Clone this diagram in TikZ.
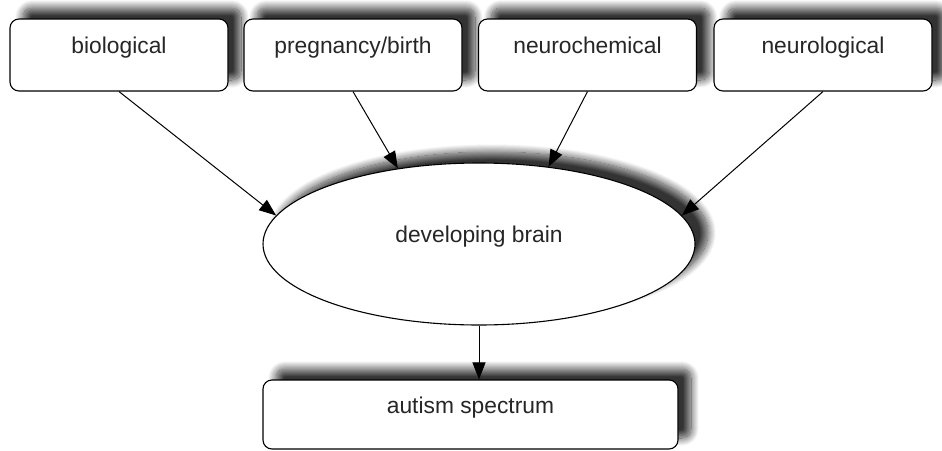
\documentclass[tikz,border=0pt]{standalone}
\usepackage{fontspec}
\setmainfont{Liberation Sans}
\usetikzlibrary{shapes.geometric,shadows.blur,arrows.meta}
\begin{document}
\begin{tikzpicture}[x=1pt,y=-1pt,
  myshadow/.style={blur shadow={shadow xshift=13pt, shadow yshift=11pt, shadow blur radius=8pt, shadow blur steps=16, shadow opacity=80}},
  txt/.style={font=\fontsize{22.8pt}{27pt}\selectfont, text=black!85},
  topbox/.style={draw=black, line width=1.1pt, fill=white, rounded corners=9pt, inner sep=0pt,
    minimum width=218pt, text height=34pt, text depth=38pt, txt, myshadow},
  bigbox/.style={draw=black, line width=1.1pt, fill=white, rounded corners=9pt, inner sep=0pt,
    minimum width=415pt, text height=33pt, text depth=36pt, txt, myshadow},
  brainshape/.style={ellipse, draw=black, line width=1.1pt, fill=white, inner sep=0pt,
    minimum width=432pt, minimum height=162pt, text height=8pt, text depth=12pt, txt, myshadow},
  arr/.style={draw=black, line width=1pt, -{Triangle[length=17pt,width=13pt]}}
]
\useasboundingbox (0,0) rectangle (942,450);
\node[topbox] (bio) at (119,55) {biological};
\node[topbox] (preg) at (353,55) {pregnancy/birth};
\node[topbox] (chem) at (587.5,55) {neurochemical};
\node[topbox] (neuro) at (823,55) {neurological};
\node[brainshape] (brain) at (479,244) {developing brain};
\node[bigbox] (aut) at (470.5,414.5) {autism spectrum};
\draw[arr] (bio.south) -- (brain.172);
\draw[arr] (preg.south) -- (brain.137);
\draw[arr] (chem.south) -- (brain.48);
\draw[arr] (neuro.south) -- (brain.8);
\draw[arr] (brain.south) -- (aut.north -| brain.south);
\end{tikzpicture}
\end{document}
